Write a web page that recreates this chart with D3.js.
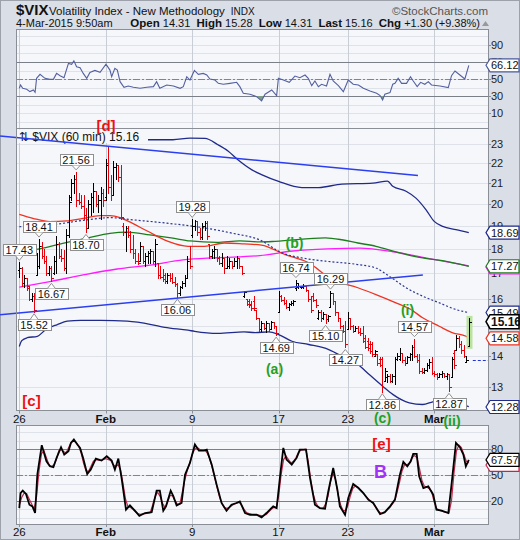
<!DOCTYPE html>
<html><head><meta charset="utf-8">
<script src="https://cdn.jsdelivr.net/npm/d3@7"></script>
<style>body{margin:0;background:#fff}svg{display:block}text{font-family:"Liberation Sans",Arial,sans-serif}</style>
</head><body><svg id="c" width="520" height="540"></svg>
<script>
// ---------- DATA ----------
const tickIndex = [0, 35, 70, 105, 133, 168];
const tickText = ["26", "Feb", "9", "17", "23", "Mar"];
const priceTicks = [13,14,15,16,17,18,19,20,21,22,23];
const hiddenPriceTicks = [15];
// 60-minute OHLC bars [open, high, low, close], 7 per day, 26-Jan .. 4-Mar
const ohlc = [
[17.1,17.43,16.85,17.2],[17.2,17.25,16.5,16.6],[16.6,16.9,16.45,16.8],[16.8,16.8,16.35,16.4],[16.5,16.5,15.97,16.0],[16.0,16.2,15.9,16.1],[16.1,16.2,15.52,15.6],
[16.9,17.8,16.9,17.3],[17.3,18.41,17.2,18.1],[18.1,18.3,17.6,17.7],[17.7,18.0,17.4,17.5],[17.5,17.7,16.9,17.0],[17.0,17.3,16.9,17.2],[17.2,17.3,16.67,16.8],
[17.0,17.7,16.95,17.5],[17.5,18.55,17.0,18.2],[18.2,18.3,17.6,17.7],[17.7,18.0,17.5,17.6],[17.6,17.95,17.1,17.2],[17.2,18.85,17.0,18.6],[18.6,20.4,18.5,20.1],
[20.3,21.2,20.2,21.0],[21.0,21.4,20.5,21.2],[21.2,21.56,19.9,20.2],[20.2,20.5,20.0,20.1],[20.1,20.4,19.8,19.9],[19.9,20.4,19.3,19.5],[19.5,19.8,18.70,18.9],
[18.9,20.2,18.9,20.0],[20.0,20.5,19.5,20.3],[20.3,21.0,19.6,20.6],[20.6,20.6,19.9,20.0],[20.0,20.4,19.6,20.2],[20.2,20.8,19.3,20.5],[20.5,20.7,19.9,20.2],
[20.3,22.2,20.2,21.9],[22.0,22.9,20.5,20.8],[20.8,21.4,20.2,20.4],[20.4,22.1,20.4,21.8],[21.8,22.0,21.2,21.9],[21.9,21.9,21.1,21.3],[21.3,21.9,19.3,19.4],
[19.0,19.1,18.6,18.7],[18.7,19.0,17.9,18.9],[18.9,19.0,18.5,18.6],[18.6,18.75,17.85,18.0],[18.0,18.6,17.6,17.8],[17.8,18.0,17.4,17.5],[17.5,17.8,17.35,17.4],
[17.5,18.3,17.5,18.1],[18.1,18.1,17.4,17.5],[17.5,17.8,17.3,17.7],[17.7,17.9,17.4,17.8],[17.8,18.0,17.4,17.9],[17.9,17.9,17.4,17.5],[17.5,18.4,17.3,18.2],
[17.4,17.4,16.8,16.9],[16.9,17.3,16.8,16.85],[16.85,17.15,16.7,16.75],[16.9,17.0,16.6,16.7],[16.7,17.0,16.6,16.9],[16.9,17.0,16.7,16.8],[16.8,17.0,16.6,16.65],
[16.65,16.85,16.5,16.55],[16.55,16.6,16.06,16.2],[16.2,16.5,16.15,16.45],[16.45,16.7,16.4,16.6],[16.6,16.9,16.5,16.8],[16.8,17.7,16.8,17.5],[17.5,18.1,17.2,17.3],
[18.6,19.28,18.5,19.0],[19.0,19.25,18.8,19.2],[19.2,19.2,18.6,18.7],[18.7,18.9,18.4,18.5],[18.5,19.1,18.4,19.0],[19.0,19.2,18.8,19.1],[19.1,19.2,18.4,18.55],
[18.2,18.2,17.6,17.7],[17.7,18.0,17.6,17.9],[17.9,18.1,17.6,18.0],[18.0,18.0,17.5,17.6],[17.6,17.7,17.35,17.4],[17.4,17.8,17.3,17.6],[17.6,17.6,17.0,17.2],
[17.2,17.7,17.2,17.3],[17.3,17.6,17.2,17.5],[17.5,17.5,17.2,17.3],[17.3,17.6,17.3,17.5],[17.5,17.7,17.2,17.6],[17.6,17.6,17.2,17.3],[17.3,17.3,16.95,17.0],
[16.1,16.3,16.05,16.25],[16.0,16.0,15.75,15.8],[15.9,16.0,15.7,15.75],[15.8,15.9,15.6,15.65],[15.9,16.1,15.6,15.65],[15.6,15.6,15.25,15.3],[15.3,15.3,14.85,14.9],
[14.9,15.2,14.85,15.1],[15.1,15.1,14.9,14.95],[14.95,15.2,14.8,15.1],[15.1,15.1,14.85,14.9],[14.9,15.2,14.9,15.15],[15.15,15.15,14.95,15.0],[15.0,15.0,14.69,14.75],
[15.5,16.3,15.5,16.1],[16.1,16.15,15.9,15.95],[15.95,16.05,15.8,15.85],[15.85,15.95,15.65,15.7],[15.7,15.85,15.6,15.8],[15.8,15.9,15.75,15.85],[15.85,15.95,15.75,15.9],
[16.4,16.74,16.35,16.6],[16.45,16.55,16.4,16.5],[16.45,16.5,16.4,16.48],[16.45,16.55,16.4,16.5],[16.5,16.5,16.3,16.35],[16.35,16.35,15.9,16.0],[16.0,16.1,15.5,15.6],
[16.1,16.2,15.9,15.95],[15.95,16.0,15.7,15.75],[15.3,15.6,15.25,15.5],[15.5,15.6,15.2,15.3],[15.3,15.5,15.25,15.45],[15.45,15.45,15.10,15.25],[15.25,15.4,15.2,15.35],
[15.7,16.29,15.7,16.2],[16.2,16.2,15.8,15.9],[15.9,15.9,15.4,15.5],[15.5,15.5,15.2,15.3],[15.3,15.3,14.95,15.0],[15.0,15.05,14.8,14.85],[14.85,15.2,14.27,14.4],
[14.9,15.5,14.9,15.3],[15.3,15.3,14.9,15.0],[15.0,15.05,14.8,14.85],[14.85,15.0,14.85,14.95],[14.95,15.0,14.75,14.8],[14.8,14.95,14.7,14.75],[14.75,15.0,14.45,14.5],
[14.6,14.7,14.25,14.3],[14.5,14.6,14.2,14.25],[14.4,14.5,14.1,14.15],[14.4,14.45,14.0,14.05],[14.0,14.2,14.0,14.15],[14.05,14.05,13.7,13.75],[13.9,13.95,13.65,13.7],
[13.9,13.95,12.86,13.0],[13.2,13.6,13.2,13.5],[13.3,13.4,13.15,13.35],[13.35,13.4,13.15,13.2],[13.2,13.4,13.15,13.35],[13.35,13.95,13.1,13.9],[13.9,14.1,13.85,14.0],
[13.9,14.25,13.85,14.1],[14.1,14.1,13.8,13.85],[13.85,13.95,13.7,13.75],[13.75,14.0,13.75,13.95],[13.95,14.1,13.85,14.05],[14.05,14.35,13.85,14.3],[14.3,14.57,13.95,14.0],
[14.0,14.05,13.8,13.85],[13.85,14.05,13.45,13.5],[13.5,13.6,13.45,13.48],[13.48,13.6,13.45,13.55],[13.55,13.75,13.5,13.7],[13.7,13.9,13.6,13.8],[13.8,13.95,13.4,13.45],
[13.45,13.5,13.35,13.4],[13.4,13.45,13.25,13.3],[13.3,13.45,13.3,13.4],[13.4,13.5,13.3,13.45],[13.45,13.45,13.3,13.35],[13.35,13.45,13.25,13.4],[13.4,13.4,12.87,13.0],
[13.3,13.95,13.3,13.9],[14.1,14.2,13.6,13.7],[14.2,14.7,14.2,14.6],[14.6,14.65,14.3,14.4],[14.4,14.5,14.1,14.2],[14.2,14.35,13.95,14.0],[13.8,14.0,13.8,13.86],
[14.31,15.28,14.31,15.16]
];
const prevClose = 13.86;
// overlays [barIndex, value]
const upperBand = [[0,23.3],[20,23.3],[40,23.28],[51.3,23.25],[62.2,23.25],[69.1,23.34],[75.2,23.32],[80.4,22.98],[84.5,22.64],[88.5,22.18],[94.2,21.66],[98.3,21.41],[105,21.08],[114.4,20.78],[121.2,20.78],[130.6,20.95],[143.1,21.0],[149.1,21.1],[151.2,20.84],[156.6,20.6],[160.6,20.27],[164.7,19.72],[168,19.19],[171.4,18.97],[176.8,18.82],[182,18.69]];
const lowerBand = [[0,14.3],[1,14.5],[3.2,14.6],[7.3,14.65],[10.7,14.88],[15.4,15.06],[19.4,15.18],[24.9,15.21],[33,15.21],[43.7,15.18],[53.4,15.06],[58.9,14.96],[68.3,14.86],[71,14.82],[80.4,14.75],[91,14.8],[95.5,14.78],[101,14.8],[105,14.71],[110.4,14.48],[117.2,14.37],[125.3,14.2],[132,13.92],[137.1,13.71],[141.7,13.39],[147.1,13.03],[151.2,12.78],[157.9,12.53],[163.3,12.48],[167.4,12.56],[171.4,12.63],[176.8,12.53],[182,12.42]];
const midBand = [[0,18.95],[12.4,19.03],[27.4,19.26],[36.7,19.36],[46,19.26],[59.8,19.11],[76,18.88],[86.5,18.66],[97.4,18.37],[106.4,17.82],[114.5,17.61],[123.9,17.48],[137.1,17.34],[144.4,17.2],[149.8,16.87],[156.6,16.42],[163.3,16.1],[170,15.85],[176.8,15.6],[182,15.49]];
const redMA = [[0,19.51],[5.5,19.33],[12.4,19.18],[19.3,19.21],[25.8,19.33],[32.7,19.45],[36.7,19.45],[40.8,19.36],[44,19.2],[52,18.75],[60,18.32],[68.3,18.1],[75,18.1],[83,18.24],[91,18.2],[98,18.15],[107.7,17.75],[117.2,17.41],[126.6,16.74],[137.1,16.42],[144.4,16.16],[152.5,15.85],[158.6,15.6],[163.3,15.3],[170,15.0],[175.5,14.77],[180.9,14.65],[182,14.58]];
const greenMA = [[1.9,17.89],[9.6,18.02],[19.3,18.27],[27.4,18.45],[36.7,18.66],[43.6,18.71],[52.9,18.59],[62.2,18.45],[69.1,18.33],[80,18.27],[89.3,18.33],[97.4,18.29],[103.6,18.31],[123.9,18.46],[130.6,18.38],[137.1,18.24],[144.4,18.1],[152.5,17.86],[163.3,17.61],[171.4,17.5],[182,17.27]];
const magentaMA = [[0,16.44],[12.4,16.66],[25.8,16.92],[39.6,17.16],[52.9,17.32],[66.3,17.53],[80,17.62],[97.4,17.71],[110.8,17.9],[124.6,17.99],[137.9,18.02],[151.3,17.87],[165,17.6],[182,17.29]];
const trendDown = [[-7.8,23.45],[161.4,21.37]];
const trendUp = [[-7.8,15.41],[163.4,16.92]];
const calloutText = ["17.43","18.41","16.67","15.52","21.56","18.70","19.28","16.06","16.74","16.29","14.69","15.10","14.27","14.57","12.86","12.87"];
const calloutBar  = [0,8,13,6,23,27,70,64,112,126,104,124,132,160,147,174];
const calloutSide = ["h","h","l","l","h","l","h","l","h","h","l","l","l","h","l","l"];
const rsi = [[0,39.1],[0.5,43],[1.4,39.1],[3,37.9],[4.3,35.2],[5.7,37.1],[6.4,34.4],[7,50.8],[8.4,55.5],[10.4,50.8],[12.4,49.6],[13.8,49.6],[15.1,56.6],[16.5,53.9],[18.1,51.6],[19.9,68.3],[21.2,67.2],[22.1,71.4],[23.2,64.4],[24.6,63.3],[25.9,56.6],[27.3,50.8],[28.6,57.8],[30.6,60.1],[32.7,57.8],[35.1,67.5],[36.7,60.5],[37.4,52.7],[38.7,62.5],[39.7,60.5],[40.8,46.9],[42.4,40.3],[44.1,41.8],[46.2,40.3],[48.9,39.1],[51.6,40.3],[54.3,41],[55.6,46.9],[56.9,39.1],[59.7,43],[62.4,41.8],[65.1,39.1],[66.4,41],[67.8,52.7],[69.1,48.8],[70.9,60.1],[72.5,55.5],[74.5,56.6],[75.9,54.7],[77.2,50],[79.2,48.8],[80.6,44.9],[82.6,43.8],[85.3,44.9],[88,46.1],[89.3,41],[90.7,33.2],[93.4,32.1],[96.1,29.3],[98.1,24.3],[99.5,32.1],[102.2,37.1],[104.2,30.5],[104.9,50.8],[106.9,48.8],[109.3,46.1],[111.6,53.5],[113.6,51.6],[115.7,54.7],[117,50.8],[118.4,42.2],[119.7,47.7],[121.1,41],[122.4,43.8],[124.4,41.8],[125.8,55.5],[127.1,47.7],[129.2,42.2],[131.2,35.2],[133.2,48.8],[135.2,43.8],[137.3,43],[139.3,39.1],[142,36],[144.7,33.2],[146.1,30.5],[147.1,25.4],[148,32.1],[150.1,34],[151.2,43.8],[152.1,44.9],[153.4,50.8],[154.8,44.9],[156.8,44.9],[158.4,52.7],[159.5,47.7],[161.1,41],[162.5,46.1],[164.2,43.8],[165.6,46.9],[166.9,43],[170.3,41.8],[173.7,39.9],[175,53.9],[176.4,59.4],[178.4,54.7],[180.4,50],[182,66.12]];
const stochK = [[0,11.4],[0.5,28.9],[1.4,31.7],[2.7,27.8],[4.1,15.3],[5.3,13.4],[6.4,5.6],[7.3,50.4],[9.1,84.7],[11,66],[12.4,60.1],[13.8,59],[15.1,69.9],[16.9,82.4],[18.2,73.8],[19.9,77.7],[20.9,87.4],[22.1,91.3],[23.5,85.5],[24.6,81.6],[25.9,69.1],[27.5,51.2],[28.9,56.2],[31,69.1],[33.3,66.8],[35.4,71.8],[37.4,66.8],[38.7,56.2],[40.1,69.1],[41.4,46.5],[43.2,9.5],[44.8,14.5],[46.8,8.3],[48.6,2.4],[50.9,5.6],[53.6,6.7],[55.6,31.7],[56.9,31.7],[58.3,8.3],[59.4,13.4],[61.3,31.7],[62.4,25],[63.7,14.5],[65.7,17.3],[67.1,50.4],[69.1,64],[71.1,85.5],[72.7,78.5],[74.8,78.5],[75.9,79.6],[77.9,62.1],[79.9,38.7],[81.9,17.3],[83.9,8.3],[85.9,15.3],[87.9,17.3],[89.3,19.2],[91.4,5.6],[93.4,3.6],[96.1,3.6],[98.1,0.5],[100.1,5.6],[102.8,13.4],[104.2,11.4],[105.5,46.5],[106.9,81.6],[108.2,67.9],[110.3,62.1],[112.3,69.9],[113.6,79.6],[116.1,79.6],[117.7,46.5],[119.7,15.3],[121.7,11.4],[123.8,10.6],[125.1,30.9],[127.1,58.2],[128.8,32.8],[129.8,13.4],[131.9,3.6],[133.2,23.1],[135.2,39.5],[137.3,34.8],[139.3,28.9],[141.3,21.2],[143.3,17.3],[146.1,4.4],[148,6.7],[150.1,13.4],[152.1,21.2],[154.1,50.4],[155.5,65.2],[157.1,60.1],[158.5,66],[159.5,74.6],[160.9,74.6],[161.9,48.4],[163.6,34.8],[165.6,36.7],[167.6,27],[168.9,9.5],[171,8.3],[173.7,5.6],[175,38.7],[176.8,87.4],[178.4,82.4],[179.8,73.8],[180.8,60.1],[182,67.57]];
const stochD = [[0,15],[1,24],[2,29],[3,28],[4,22],[5,16],[6,10],[7,25],[8,55],[9,75],[10,78],[11,70],[12,62],[13,60],[14,62],[15,68],[16,78],[17,80],[18,77],[19,76],[20,82],[21,88],[22,90],[23,88],[24,84],[25,76],[26,64],[27,55],[28,54],[29,60],[30,66],[31,68],[33,67],[35,69],[37,67],[38,62],[39,60],[40,62],[41,56],[42,40],[43,22],[44,13],[45,12],[46,10],[47,7],[48,5],[49,4],[51,5],[53,6],[54,15],[55,25],[56,30],[57,25],[58,17],[59,12],[60,18],[61,26],[62,26],[63,20],[64,16],[65,16],[66,30],[67,44],[68,55],[69,64],[70,74],[71,80],[72,82],[73,80],[74,79],[75,79],[76,76],[77,70],[78,60],[79,48],[80,36],[81,25],[82,17],[83,12],[84,11],[85,12],[86,14],[87,16],[88,17],[89,18],[90,15],[91,10],[92,6],[93,5],[94,4],[96,3.5],[98,2.5],[99,3],[100,4],[101,7],[102,10],[103,12],[104,12],[105,25],[106,50],[107,68],[108,72],[109,68],[110,64],[111,66],[112,70],[113,76],[114,79],[116,80],[117,66],[118,45],[119,28],[120,18],[121,13],[122,11],[123,11],[124,16],[125,25],[126,42],[127,52],[128,45],[129,28],[130,16],[131,9],[132,8],[133,14],[134,25],[135,34],[136,37],[137,36],[138,33],[139,30],[140,26],[141,23],[142,20],[143,18],[144,14],[145,9],[146,6],[147,5],[148,6],[149,9],[150,12],[151,16],[152,20],[153,30],[154,42],[155,55],[156,62],[157,62],[158,64],[159,70],[160,73],[161,70],[162,58],[163,44],[164,37],[165,36],[166,34],[167,30],[168,18],[169,11],[170,9],[172,7],[174,6],[175,20],[176,52],[177,78],[178,85],[179,82],[180,74],[181,66],[182,64]];

// ---------- LAYOUT ----------
const L = 16, R = 488;
const rsiTop = 29, rsiBot = 128, mainTop = 128, mainBot = 410, stTop = 425, stBot = 524;
const BG = "#dadee7", PANEL = "#f6f7fb", GRID = "#dfe2e8", VGRID = "#c9cdd6", BORDER = "#8a8e97";

const svg = d3.select("#c");
const x = d3.scaleLinear().domain([0, 182]).range([19.3, 468.8]);
const yM = d3.scaleLog().domain([12.32, 23.9]).range([mainBot, mainTop]);
const yR = d3.scaleLinear().domain([-7.6, 108.8]).range([rsiBot, rsiTop]);
const yS = d3.scaleLinear().domain([-7.2, 108.3]).range([stBot, stTop]);
const px = v => Math.round(v) + 0.5;

svg.append("rect").attr("width", 520).attr("height", 540).attr("fill", BG);
svg.append("rect").attr("x", 0.5).attr("y", 0.5).attr("width", 519).attr("height", 539).attr("fill", "none").attr("stroke", "#9da1aa");

const defs = svg.append("defs");
function clip(id, y0, y1) {
  defs.append("clipPath").attr("id", id).append("rect").attr("x", L).attr("y", y0).attr("width", R - L).attr("height", y1 - y0);
  return "url(#" + id + ")";
}
function panel(y0, y1) {
  svg.append("rect").attr("x", L + 0.5).attr("y", y0 + 0.5).attr("width", R - L).attr("height", y1 - y0).attr("fill", PANEL);
}
function panelBorder(y0, y1) {
  svg.append("rect").attr("x", L + 0.5).attr("y", y0 + 0.5).attr("width", R - L).attr("height", y1 - y0).attr("fill", "none").attr("stroke", BORDER);
}
function vgrid(g, y0, y1) {
  g.selectAll(null).data(tickIndex).join("line").attr("x1", d => px(x(d))).attr("x2", d => px(x(d)))
    .attr("y1", y0).attr("y2", y1).attr("stroke", VGRID);
}
function tag(y, label, color, opts = {}) {
  const x0 = 486, h = opts.h || 13;
  svg.append("path").attr("d", `M${x0},${y}L${x0 + 4},${y - h / 2}H519V${y + h / 2}H${x0 + 4}Z`)
    .attr("fill", "#fff").attr("stroke", color).attr("stroke-width", opts.sw || 1.2);
  if (label) svg.append("text").attr("x", x0 + 5).attr("y", y + 4).text(label).attr("font-size", opts.fs || 11)
    .attr("font-weight", opts.bold ? "bold" : "normal").attr("fill", "#111");
}
const lineGen = (ys) => d3.line().x(d => x(d[0])).y(d => ys(d[1])).curve(d3.curveMonotoneX);

// ---------- HEADER ----------
const t1 = svg.append("text").attr("x", 16).attr("y", 15).text("$VIX").attr("font-size", 15).attr("font-weight", "bold").attr("fill", "#111");
const t2 = svg.append("text").attr("x", 49).attr("y", 15).text("Volatility Index - New Methodology").attr("font-size", 11.5).attr("fill", "#111");
const t2w = t2.node().getComputedTextLength();
svg.append("text").attr("x", 49 + t2w + 6).attr("y", 15).text("INDX").attr("font-size", 10).attr("fill", "#111");
svg.append("text").attr("x", 488).attr("y", 15).attr("text-anchor", "end").text("©StockCharts.com").attr("font-size", 11.5).attr("fill", "#555");
svg.append("text").attr("x", 16).attr("y", 27).text("4-Mar-2015 9:50am").attr("font-size", 11).attr("fill", "#111");
const hdr = svg.append("text").attr("x", 480).attr("y", 27).attr("text-anchor", "end").attr("font-size", 11).attr("fill", "#111").attr("style", "white-space:pre");
const hdrParts = [["Open", true], [" 14.31  ", false], ["High", true], [" 15.28  ", false], ["Low", true], [" 14.31  ", false], ["Last", true], [" 15.16  ", false], ["Chg", true], [" +1.30 (+9.38%)", false]];
hdrParts.forEach(p => hdr.append("tspan").text(p[0]).attr("font-weight", p[1] ? "bold" : "normal").attr("font-size", p[1] ? 11.5 : 11));
svg.append("path").attr("d", "M482,26L485.5,21L489,26Z").attr("fill", "#999");

// ---------- RSI PANEL ----------
panel(rsiTop, rsiBot);
const gR = svg.append("g").attr("clip-path", clip("cr", rsiTop, rsiBot));
gR.selectAll(null).data(d3.range(0, 101, 10)).join("line").attr("x1", L).attr("x2", R)
  .attr("y1", d => px(yR(d))).attr("y2", d => px(yR(d))).attr("stroke", GRID);
vgrid(gR, rsiTop, rsiBot);
[30, 70].forEach(v => gR.append("line").attr("x1", L).attr("x2", R).attr("y1", px(yR(v))).attr("y2", px(yR(v))).attr("stroke", "#7b7f88"));
gR.append("line").attr("x1", L).attr("x2", R).attr("y1", px(yR(50))).attr("y2", px(yR(50))).attr("stroke", "#80848c").attr("stroke-dasharray", "7,2,2,2");
clip("cr30", yR(30), rsiBot);
gR.append("path").datum(rsi).attr("clip-path", "url(#cr30)")
  .attr("d", d3.area().x(d => x(d[0])).y0(yR(30)).y1(d => yR(d[1]))).attr("fill", "#7f9e86");
gR.append("path").datum(rsi).attr("d", d3.line().x(d => x(d[0])).y(d => yR(d[1]))).attr("fill", "none").attr("stroke", "#5461a0").attr("stroke-width", 1.1);
panelBorder(rsiTop, rsiBot);
[90, 70, 50, 30, 10].forEach(v => {
  svg.append("line").attr("x1", R).attr("x2", R + 3).attr("y1", px(yR(v))).attr("y2", px(yR(v))).attr("stroke", BORDER);
  svg.append("text").attr("x", 491).attr("y", yR(v) + 4).text(v).attr("font-size", 11).attr("fill", "#222");
});
tag(yR(66.12), "66.12", "#4b5a9a");

// ---------- MAIN PANEL ----------
panel(mainTop, mainBot);
const gM = svg.append("g").attr("clip-path", clip("cm", mainTop, mainBot));
gM.selectAll(null).data(priceTicks).join("line").attr("x1", L).attr("x2", R)
  .attr("y1", d => px(yM(d))).attr("y2", d => px(yM(d))).attr("stroke", GRID);
vgrid(gM, mainTop, mainBot);
gM.append("path").datum(magentaMA).attr("d", lineGen(yM)).attr("fill", "none").attr("stroke", "#ff1aff").attr("stroke-width", 1.3);
gM.append("path").datum(greenMA).attr("d", lineGen(yM)).attr("fill", "none").attr("stroke", "#1c7d1c").attr("stroke-width", 1.3);
gM.append("path").datum(redMA).attr("d", lineGen(yM)).attr("fill", "none").attr("stroke", "#ee3322").attr("stroke-width", 1.3);
gM.append("path").datum(midBand).attr("d", lineGen(yM)).attr("fill", "none").attr("stroke", "#2a3590").attr("stroke-width", 1.2).attr("stroke-dasharray", "2,2");
gM.append("path").datum(upperBand).attr("d", lineGen(yM)).attr("fill", "none").attr("stroke", "#1f2a8a").attr("stroke-width", 1.3);
gM.append("path").datum(lowerBand).attr("d", lineGen(yM)).attr("fill", "none").attr("stroke", "#1f2a8a").attr("stroke-width", 1.3);
const last = ohlc[ohlc.length - 1];
gM.append("rect").attr("x", Math.round(x(182)) - 2.5).attr("y", yM(last[1]) - 2.5).attr("width", 6)
  .attr("height", yM(last[2]) - yM(last[1]) + 5).attr("fill", "#b9e39e");
gM.selectAll(null).data(ohlc).join("path").attr("d", (d, i) => {
  const X = px(x(i));
  return `M${X},${Math.round(yM(d[1]))}V${Math.round(yM(d[2])) + 1}M${X - 2},${px(yM(d[0]))}H${X}M${X},${px(yM(d[3]))}H${X + 2}`;
}).attr("stroke", d => d[3] >= d[0] ? "#000" : "#e8000b").attr("stroke-width", 1).attr("fill", "none").attr("shape-rendering", "crispEdges");
svg.append("line").attr("x1", x(182) + 4).attr("x2", R).attr("y1", px(yM(prevClose))).attr("y2", px(yM(prevClose)))
  .attr("stroke", "#2233dd").attr("stroke-width", 1.2).attr("stroke-dasharray", "3,2");
// legend
svg.append("rect").attr("x", L + 1).attr("y", mainTop + 1.5).attr("width", 131).attr("height", 13.5).attr("fill", PANEL);
svg.append("text").attr("x", 19).attr("y", 141).text("⇅ $VIX (60 min) 15.16").attr("font-size", 12).attr("fill", "#111");
[trendDown, trendUp].forEach(t => svg.append("line").attr("x1", x(t[0][0])).attr("y1", yM(t[0][1])).attr("x2", x(t[1][0])).attr("y2", yM(t[1][1]))
  .attr("stroke", "#2b3ff0").attr("stroke-width", 1.5));
panelBorder(mainTop, mainBot);
// callouts
calloutText.forEach((t, k) => {
  const i = calloutBar[k], d = ohlc[i], side = calloutSide[k];
  const cx = x(i);
  const g = svg.append("g");
  const tx = g.append("text").text(t).attr("font-size", 11).attr("text-anchor", "middle").attr("fill", "#111");
  const w = tx.node().getComputedTextLength() + 5, h = 11;
  let tip, by;
  if (side === "h") { tip = yM(d[1]) - 2; by = tip - 5 - h; }
  else { tip = yM(d[2]) + 2; by = tip + 5; }
  const bx = Math.round(cx - w / 2) + 0.5; by = Math.round(by) + 0.5;
  g.insert("rect", "text").attr("x", bx).attr("y", by).attr("width", Math.round(w)).attr("height", h).attr("fill", "#fff").attr("stroke", "#8f8f8f");
  const base = side === "h" ? by + h : by;
  g.append("path").attr("d", `M${cx - 4},${base}L${cx},${tip}L${cx + 4},${base}Z`).attr("fill", "#fff").attr("stroke", "none");
  g.append("path").attr("d", `M${cx - 4},${base}L${cx},${tip}L${cx + 4},${base}`).attr("fill", "none").attr("stroke", "#8f8f8f");
  tx.attr("x", cx).attr("y", by + h - 2).raise();
});
priceTicks.forEach(v => {
  svg.append("line").attr("x1", R).attr("x2", R + 3).attr("y1", px(yM(v))).attr("y2", px(yM(v))).attr("stroke", BORDER);
  if (!hiddenPriceTicks.includes(v))
    svg.append("text").attr("x", 491).attr("y", yM(v) + 4).text(v).attr("font-size", 11).attr("fill", "#222");
});
tag(yM(18.69), "18.69", "#1f2a8a");
tag(yM(17.29) + 1.5, null, "#ff1aff");
tag(yM(17.27), "17.27", "#1c7d1c");
tag(yM(15.49), "15.49", "#1f2a8a");
tag(yM(14.58), "14.58", "#ee3322");
tag(yM(15.16), "15.16", "#000", { bold: true, fs: 12, sw: 1.5, h: 14 });
tag(Math.min(yM(12.28), mainBot - 3), "12.28", "#1f2a8a");

function xLabels(yb) {
  tickIndex.forEach((i, k) => {
    svg.append("line").attr("x1", px(x(i))).attr("x2", px(x(i))).attr("y1", yb - 12).attr("y2", yb - 9).attr("stroke", BORDER);
    svg.append("text").attr("x", x(i)).attr("y", yb).attr("text-anchor", "middle").text(tickText[k])
      .attr("font-size", 11.5).attr("font-weight", (tickText[k] === "Feb" || tickText[k] === "Mar") ? "bold" : "normal").attr("fill", "#111");
  });
}
xLabels(422.5);

// ---------- STOCH PANEL ----------
panel(stTop, stBot);
const gS = svg.append("g").attr("clip-path", clip("cs", stTop, stBot));
gS.selectAll(null).data(d3.range(0, 101, 10)).join("line").attr("x1", L).attr("x2", R)
  .attr("y1", d => px(yS(d))).attr("y2", d => px(yS(d))).attr("stroke", GRID);
vgrid(gS, stTop, stBot);
[20, 80].forEach(v => gS.append("line").attr("x1", L).attr("x2", R).attr("y1", px(yS(v))).attr("y2", px(yS(v))).attr("stroke", "#7b7f88"));
gS.append("line").attr("x1", L).attr("x2", R).attr("y1", px(yS(50))).attr("y2", px(yS(50))).attr("stroke", "#80848c").attr("stroke-dasharray", "7,2,2,2");
gS.append("path").datum(stochD).attr("d", d3.line().x(d => x(d[0])).y(d => yS(d[1]))).attr("fill", "none").attr("stroke", "#c4264a").attr("stroke-width", 1.2);
gS.append("path").datum(stochK).attr("d", d3.line().x(d => x(d[0])).y(d => yS(d[1]))).attr("fill", "none").attr("stroke", "#000").attr("stroke-width", 1.8);
panelBorder(stTop, stBot);
[80, 50, 20].forEach(v => {
  svg.append("line").attr("x1", R).attr("x2", R + 3).attr("y1", px(yS(v))).attr("y2", px(yS(v))).attr("stroke", BORDER);
  svg.append("text").attr("x", 491).attr("y", yS(v) + 4).text(v).attr("font-size", 11).attr("fill", "#222");
});
tag(yS(64) + 2, null, "#c4264a");
tag(yS(67.57), "67.57", "#000");
xLabels(536);

// ---------- ANNOTATIONS ----------
const ann = [
  ["[d]", 106, 131, "#ee1111", 15], ["[c]", 31.5, 406, "#ee1111", 15], ["(b)", 294.5, 248, "#22a022", 14],
  ["(a)", 274.5, 374, "#22a022", 14], ["(i)", 407.5, 315, "#22a022", 14], ["(c)", 382.5, 423, "#22a022", 14],
  ["(ii)", 452, 426, "#22a022", 14], ["[e]", 381.5, 449, "#ee1111", 15], ["B", 380.5, 478, "#a232f5", 18]
];
ann.forEach(a => svg.append("text").attr("x", a[1]).attr("y", a[2]).attr("text-anchor", "middle").text(a[0])
  .attr("font-size", a[4]).attr("font-weight", "bold").attr("fill", a[3]));
</script></body></html>
